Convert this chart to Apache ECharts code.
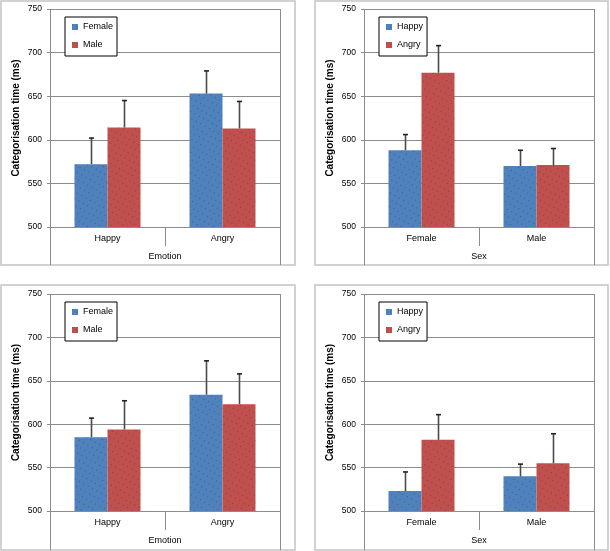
<!DOCTYPE html>
<html>
<head>
<meta charset="utf-8">
<script src="https://cdn.jsdelivr.net/npm/echarts@6/dist/echarts.min.js"></script>
<style>
html,body{margin:0;padding:0;background:#fff;}
#chart{width:610px;height:551px;}
</style>
</head>
<body>
<div id="chart"></div>
<script>
// ---- data ----
const emotionCategories = ['Happy', 'Angry'];
const sexCategories = ['Female', 'Male'];
const yTicks = [500, 550, 600, 650, 700, 750];

// Panel A (top-left): by Emotion, series Female / Male
const topEmotionFemale = [572, 653];
const topEmotionFemaleErr = [30, 26];
const topEmotionMale = [614, 613];
const topEmotionMaleErr = [31, 31];

// Panel B (top-right): by Sex, series Happy / Angry
const topSexHappy = [588, 570];
const topSexHappyErr = [18, 18];
const topSexAngry = [677, 571];
const topSexAngryErr = [31, 19];

// Panel C (bottom-left): by Emotion, series Female / Male
const bottomEmotionFemale = [585, 634];
const bottomEmotionFemaleErr = [22, 39];
const bottomEmotionMale = [594, 623];
const bottomEmotionMaleErr = [33, 35];

// Panel D (bottom-right): by Sex, series Happy / Angry
const bottomSexHappy = [523, 540];
const bottomSexHappyErr = [22, 14];
const bottomSexAngry = [582, 555];
const bottomSexAngryErr = [29, 34];

// ---- layout / style ----
const FONT = "'Liberation Sans', Arial, sans-serif";
const BLUE = '#4f81bd';
const RED = '#c0504d';
const BAR_W = 33;

const panels = [
  {box: [1, 1, 294, 264], grid: {left: 50, top: 9, width: 230, height: 218}, legendPos: [65, 17],
   cats: emotionCategories, axisName: 'Emotion',
   series: [['Female', topEmotionFemale, topEmotionFemaleErr, BLUE], ['Male', topEmotionMale, topEmotionMaleErr, RED]]},
  {box: [315, 1, 293, 264], grid: {left: 364, top: 9, width: 230, height: 218}, legendPos: [379, 17],
   cats: sexCategories, axisName: 'Sex',
   series: [['Happy', topSexHappy, topSexHappyErr, BLUE], ['Angry', topSexAngry, topSexAngryErr, RED]]},
  {box: [1, 285, 294, 265], grid: {left: 50, top: 294, width: 230, height: 217}, legendPos: [65, 302],
   cats: emotionCategories, axisName: 'Emotion',
   series: [['Female', bottomEmotionFemale, bottomEmotionFemaleErr, BLUE], ['Male', bottomEmotionMale, bottomEmotionMaleErr, RED]]},
  {box: [315, 285, 293, 265], grid: {left: 364, top: 294, width: 230, height: 217}, legendPos: [379, 302],
   cats: sexCategories, axisName: 'Sex',
   series: [['Happy', bottomSexHappy, bottomSexHappyErr, BLUE], ['Angry', bottomSexAngry, bottomSexAngryErr, RED]]}
];

function decalFor() {
  return {symbol: 'rect', symbolSize: 1, color: 'rgba(30,30,30,0.35)', dashArrayX: [1, 4], dashArrayY: [1, 5], rotation: 0.5};
}

function errRenderer(offset) {
  return function (params, api) {
    const c = api.value(0), v = api.value(1), e = api.value(2);
    const base = api.coord([c, v]);
    const top = api.coord([c, v + e]);
    const x = Math.round(base[0] + offset) + 0.5;
    return {
      type: 'group',
      children: [
        {type: 'line', shape: {x1: x, y1: base[1], x2: x, y2: top[1]}, style: {stroke: '#4a4a4a', lineWidth: 1.6}},
        {type: 'line', shape: {x1: x - 2.5, y1: top[1], x2: x + 2.5, y2: top[1]}, style: {stroke: '#222', lineWidth: 1.6}}
      ]
    };
  };
}

const option = {
  animation: false,
  backgroundColor: '#fff',
  grid: [], xAxis: [], yAxis: [], legend: [], series: [], graphic: []
};

panels.forEach((p, i) => {
  option.grid.push(Object.assign({containLabel: false}, p.grid));
  option.xAxis.push({
    type: 'category', gridIndex: i, data: p.cats,
    name: p.axisName, nameLocation: 'middle', nameGap: 25,
    nameTextStyle: {fontFamily: FONT, fontSize: 9, color: '#000'},
    axisLine: {show: true, lineStyle: {color: '#8c8c8c', width: 1}},
    axisTick: {show: true, alignWithLabel: false, length: 19, lineStyle: {color: '#8c8c8c'}},
    axisLabel: {fontFamily: FONT, fontSize: 9, color: '#000', margin: 7},
    splitLine: {show: false}
  });
  option.yAxis.push({
    type: 'value', gridIndex: i, min: yTicks[0], max: yTicks[yTicks.length - 1], interval: yTicks[1] - yTicks[0],
    name: 'Categorisation time (ms)', nameLocation: 'middle', nameGap: 29,
    nameTextStyle: {fontFamily: FONT, fontSize: 10, fontWeight: 'bold', color: '#000'},
    axisLine: {show: false},
    axisTick: {show: true, length: 3, lineStyle: {color: '#8c8c8c'}},
    axisLabel: {fontFamily: FONT, fontSize: 8.5, color: '#000', margin: 8},
    splitLine: {show: true, lineStyle: {color: '#8c8c8c', width: 1}}
  });
  option.legend.push({
    orient: 'vertical', left: p.legendPos[0], top: p.legendPos[1],
    data: p.series.map(s => s[0]),
    icon: 'rect', itemWidth: 6, itemHeight: 6, itemGap: 6,
    padding: [4, 4, 5, 7],
    borderColor: '#000', borderWidth: 1, borderRadius: 0, backgroundColor: '#fff',
    textStyle: {fontFamily: FONT, fontSize: 9, color: '#000', lineHeight: 12},
    selectedMode: false
  });
  p.series.forEach((s, k) => {
    option.series.push({
      type: 'bar', name: s[0], xAxisIndex: i, yAxisIndex: i,
      data: s[1], barWidth: BAR_W, barGap: '0%',
      itemStyle: {color: s[3], decal: decalFor()},
      z: 2
    });
  });
  p.series.forEach((s, k) => {
    const offset = (k === 0 ? -1 : 1) * BAR_W / 2;
    option.series.push({
      type: 'custom', name: s[0] + ' error', xAxisIndex: i, yAxisIndex: i,
      data: s[1].map((v, j) => [j, v, s[2][j]]),
      encode: {x: 0, y: 1},
      renderItem: errRenderer(offset),
      z: 5, silent: true
    });
  });
  // panel border
  option.graphic.push({
    type: 'rect', shape: {x: p.box[0], y: p.box[1], width: p.box[2], height: p.box[3]},
    style: {fill: null, stroke: '#c4c4c4', lineWidth: 1.5}, z: 0, silent: true
  });
  // plot-area side lines extending through the category label band
  const g = p.grid;
  const bottom = p.box[1] + p.box[3];
  [g.left, g.left + g.width].forEach(x => {
    option.graphic.push({
      type: 'line', shape: {x1: x + 0.5, y1: g.top, x2: x + 0.5, y2: bottom},
      style: {stroke: '#8c8c8c', lineWidth: 1}, z: 1, silent: true
    });
  });
});

const chart = echarts.init(document.getElementById('chart'), null, {renderer: 'canvas'});
chart.setOption(option);
</script>
</body>
</html>
